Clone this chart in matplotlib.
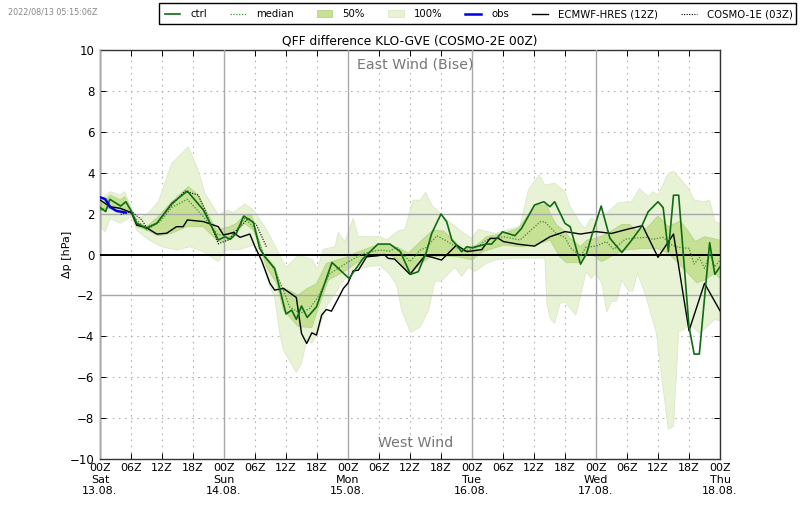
import matplotlib
matplotlib.use("Agg")
import matplotlib.pyplot as plt
from matplotlib.lines import Line2D
from matplotlib.patches import Patch, Rectangle

title = "QFF difference KLO-GVE (COSMO-2E 00Z)"
stamp = "2022/08/13 05:15:06Z"
major_hours = [0, 24, 48, 72, 96, 120]
tick_hours = list(range(0, 121, 6))
days = ["Sat\n13.08.", "Sun\n14.08.", "Mon\n15.08.", "Tue\n16.08.", "Wed\n17.08.", "Thu\n18.08."]

ctrl_h = [0,1.1,1.9,4,5,6.1,7.1,9,11,13.9,16.9,20,22.9,24.2,25.2,26.4,27.8,29.7,30.9,31.9,33.8,36,37.1,38,39,40.1,41.9,44.9,48.2,50.9,53.8,56.1,58.1,60.1,61.6,63.2,64.2,66,67.1,68.1,69,70,71,72,74,74.8,75.8,77.9,80.3,81.6,84.1,85.9,87.1,88,90,91,93,94.2,95.2,97,98.7,101,102.9,104.8,106.1,108,109,110,111,112,114,115,116,118,119,120]
ctrl_v = [2.3,2.1,2.7,2.37,2.58,2.1,1.53,1.28,1.53,2.5,3.1,2.18,0.71,0.87,0.74,1.03,1.88,1.57,0.3,-0.11,-0.68,-2.91,-2.72,-3.17,-2.52,-3.08,-2.56,-0.39,-1.17,-0.2,0.51,0.51,0.15,-0.97,-0.84,0.14,1.03,1.98,1.6,0.71,0.46,0.14,0.38,0.33,0.46,0.51,0.51,1.11,0.92,1.28,2.42,2.58,2.34,2.58,1.52,1.36,-0.47,0.06,0.95,2.37,0.79,0.1,0.7,1.36,2.09,2.58,2.29,0.14,2.9,2.9,-3.53,-4.87,-4.87,0.58,-0.97,-0.6]

median_h = [0,2,3.9,6,9,11.6,13.9,16.9,20,22.9,25.1,26.4,28,29.7,31.6,33.8,35.5,36.7,38.7,40.6,42.2,44.5,48,50.9,54.2,56.1,57.4,60,62,63.2,65.2,67.1,70.3,72.9,74.8,78.1,81.3,85.2,86.1,88.4,90,91,93,94,96,98,99.4,101.6,103,105.8,107,109,110.7,112,114,115,116,117,118,119,120]
median_v = [2.17,2.3,2.26,2.0,1.2,1.6,2.3,2.7,1.85,0.95,1.03,1.19,1.76,1.36,0.05,-0.76,-1.74,-2.56,-2.88,-2.64,-2.07,-0.93,-0.37,0.05,0.22,0.17,0.35,-0.35,0.22,0.35,0.92,0.66,0.14,0.35,0.71,0.87,0.71,1.6,1.6,1.0,0.84,0.35,-0.1,0.35,0.41,0.63,0.25,0.74,0.79,0.84,0.74,0.84,0.46,0.35,0.3,-0.47,-0.14,-0.68,0.05,-0.6,-0.27]

q75_h = [0,2,3.9,4.8,6.1,7.1,9,11.3,13.9,17.1,19,22.5,25.1,26.4,28,29.3,30.6,31.6,33.8,35.1,38.4,40,41.9,43.8,47.7,49,53.5,56,58,59.7,62,64.5,66.5,68.7,70.3,72.9,74.8,78.1,81,84.2,86.5,87.1,88.4,90,91,93,94.2,96,98,101,102.5,103.9,105.8,108,110,112.3,113.9,115.2,117,120]
q75_v = [2.42,2.91,2.67,2.83,2.18,1.61,1.36,1.85,2.58,3.32,2.91,1.2,1.36,1.52,1.93,1.93,0.87,0.05,-0.6,-1.58,-1.98,-1.68,-1.43,-0.44,-0.13,0.03,0.46,0.46,0.3,0.06,0.63,1.2,1.15,0.63,0.22,0.46,0.87,1.03,1.28,2.42,2.42,2.0,1.44,1.12,0.79,0.38,0.7,0.79,1.0,1.47,1.47,1.16,1.28,1.88,1.36,1.64,1.12,0.63,0.87,0.7]
q25_h = [0,2,3.9,6.1,7.1,9,11.3,13.9,16.8,20,22.9,24.8,28,29.7,31.3,32.2,34.2,35.5,38.4,41,42.2,44.2,47.7,50.9,54.2,56.8,58,60,62,63.9,66.5,69.7,72,74.2,78.1,81.3,84.2,87.1,89,90.3,92.6,94.8,97.1,99.4,101.3,105.2,107.7,110,112,115.5,117,119,120]
q25_v = [2.1,2.42,2.18,1.93,1.36,1.2,0.91,1.04,1.36,1.36,0.63,0.7,1.52,1.19,0.13,-0.6,-1.41,-2.72,-3.53,-3.57,-2.64,-1.25,-0.76,-0.2,0.05,-0.1,-0.35,-0.97,-0.46,-0.13,-0.07,-0.13,-0.26,0.15,0.46,0.38,0.46,0.71,-0.11,-0.4,-0.4,0.09,-0.35,-0.03,0.22,0.3,0.3,0.06,-0.43,-1.38,-1.25,-0.92,-1.17]

max_h = [0,2,3.9,4.8,6.1,7.1,9,11.3,13.9,17.1,19,20.3,22.9,24.8,25.8,28,29.7,31.9,33.8,36,38.4,41,42.1,43.2,45.5,46.1,47.4,49,50,54.2,55.5,57.7,59,60.6,62,63,64.2,67.1,70,72,73.2,76.5,81.3,82.9,85,86.1,88,90,91,93,93.9,95,96,98,100.3,102.9,104.4,106.1,107,108,110,111,113.9,115,117,118,119,120]
max_v = [2.67,3.07,2.91,3.07,2.26,1.77,1.93,2.58,4.46,5.27,4.13,3.0,1.93,2.17,2.04,2.47,2.17,1.36,0.46,-0.63,-0.03,-0.24,-0.71,0.25,0.38,1.08,0.62,1.76,0.87,0.87,0.71,1.16,1.23,2.66,2.66,3.04,2.42,1.69,1.12,0.79,1.23,1.03,1.39,3.15,3.89,3.4,3.48,3.07,2.34,1.52,1.28,1.77,1.69,2.01,2.53,2.58,3.23,2.83,3.07,2.91,3.97,4.08,3.23,2.66,2.58,2.66,1.6,1.52]
min_h = [0,1,2,3.9,6.1,7.1,9,11.9,14.9,17.4,20,22.9,24.2,27.1,29.7,31.3,32.9,33.8,34.8,35.5,38,39,40,41,42.2,43.8,46.1,48.7,52,54.2,56.1,57.4,58.4,60.1,61.9,63.6,64.8,66.1,68.7,70,71.3,72.6,74.8,76.5,80,86.1,86.5,87.1,88,89,90,92.1,94.1,95,96,97.1,98.1,99,100,101,102.3,103.1,104,105.5,107.7,108.7,110,111,112,112.9,114,116.1,119,120]
min_v = [1.36,1.12,1.77,1.53,1.85,1.2,0.79,0.38,0.22,0.38,0.14,-0.35,0.22,0.25,0.46,-0.27,-1.58,-2.08,-3.86,-4.67,-5.77,-5.33,-4.18,-4.35,-3.78,-2.55,-1.66,-0.77,-0.6,-0.52,-0.97,-1.49,-2.72,-3.81,-3.56,-2.72,-1.33,-1.28,-0.62,-1.08,-0.62,-0.83,-0.43,-0.27,-0.18,-0.18,-2.39,-3.12,-3.37,-2.39,-2.31,-2.96,-0.84,-1.17,-0.92,-1.41,-2.8,-2.31,-2.27,-1.25,-1.79,-1.79,-0.92,-1.9,-3.86,-5.97,-8.55,-8.39,-3.77,-3.69,-3.37,-3.86,-3.17,-3.25]

obs_h = [0,1,2,3.2,5]
obs_v = [2.8,2.71,2.31,2.13,2.05]

ecmwf_h = [0,1.9,3.9,6.1,7.1,9,11,12.9,14.8,16.1,16.9,20,22.9,23.9,25.8,27.1,29,30,31.3,32.9,33.8,35.5,38,39,40,41,41.9,42.9,43.8,44.8,46.1,47.1,48,49,50,51.6,53.8,55,55.8,57,60,62.9,64.2,66.1,69,71,73.9,75.5,77.1,78.1,81,84.1,87.1,90,93,96,99,102,105,108,111,114,117,120]
ecmwf_v = [2.67,2.34,2.26,2.05,1.44,1.31,1.0,1.04,1.36,1.36,1.69,1.61,1.36,0.95,1.07,0.84,1.0,0.38,-0.31,-1.41,-1.74,-1.66,-2.1,-3.86,-4.35,-3.83,-3.94,-2.96,-2.69,-2.77,-2.15,-1.66,-1.4,-0.8,-0.77,-0.11,-0.06,0.0,-0.19,-0.22,-0.97,-0.05,-0.13,-0.27,0.46,0.14,0.24,0.79,0.79,0.63,0.5,0.41,0.87,1.12,1.0,1.12,1.03,1.23,1.41,-0.14,1.0,-3.73,-1.41,-2.75]

cosmo1_h = [4,6.1,8.1,9,11,13.9,16.4,19,20.3,22.9,24.8,26.5,28.7,30.3,32.2]
cosmo1_v = [1.96,2.1,1.69,1.33,1.53,2.42,3.1,2.91,2.18,0.52,0.71,1.2,1.77,1.44,0.38]

C_100 = "#e8f3d6"
C_50 = "#c6e094"
C_CTRL = "#0f6b12"
C_MED = "#3f8f3a"
GRID = "#a8a8a8"
DOT = (0, (1.5, 4))

plt.rcParams["font.family"] = "DejaVu Sans"
fig = plt.figure(figsize=(8.0, 5.09), dpi=100)
ax = fig.add_axes([100/800, 1-459/509, 620/800, 409/509])

ax.fill(max_h + min_h[::-1], max_v + min_v[::-1], facecolor=C_100, edgecolor="#dbe8c8", lw=0.6, zorder=1)
ax.fill(q75_h + q25_h[::-1], q75_v + q25_v[::-1], facecolor=C_50, edgecolor="#b5d48a", lw=0.6, zorder=2)

ax.axhline(0, color="black", lw=1.4, zorder=4)
ax.plot(median_h, median_v, color=C_MED, lw=0.9, ls=(0, (1, 1.3)), zorder=5)
ax.plot(cosmo1_h, cosmo1_v, color="black", lw=0.8, ls=(0, (1, 1.3)), zorder=5)
ax.plot(ecmwf_h, ecmwf_v, color="black", lw=1.0, zorder=6)
ax.plot(ctrl_h, ctrl_v, color=C_CTRL, lw=1.2, zorder=7)
ax.plot(obs_h, obs_v, color="#0000e0", lw=1.8, zorder=8)

ax.set_xlim(0, 120)
ax.set_ylim(-10, 10)
ax.set_yticks(range(-10, 11, 2))
ax.set_xticks(tick_hours)
labels = []
for h in tick_hours:
    lab = f"{h % 24:02d}Z"
    if h in major_hours:
        lab += "\n" + days[major_hours.index(h)]
    labels.append(lab)
ax.set_xticklabels(labels, fontsize=8, linespacing=1.2)
ax.tick_params(axis="y", labelsize=8.5, direction="in", length=4, width=0.7, right=True, pad=4)
ax.tick_params(axis="x", direction="in", length=4, width=0.7, top=True, pad=3)

for h in tick_hours:
    if h in major_hours:
        ax.axvline(h, color=GRID, lw=1.0, zorder=3)
    else:
        ax.axvline(h, color="#b4b4b4", lw=0.8, ls=DOT, zorder=0.5)
for y in range(-10, 11, 2):
    if y in (-2, 2):
        ax.axhline(y, color=GRID, lw=1.0, zorder=3)
    elif y != 0:
        ax.axhline(y, color="#b4b4b4", lw=0.8, ls=DOT, zorder=0.5)

for s in ax.spines.values():
    s.set_linewidth(1.0)
    s.set_color("#333333")

ax.set_ylabel("Δp [hPa]", fontsize=8, labelpad=-2)
ax.set_title(title, fontsize=8.8, pad=4)
ax.text(61, 9.3, "East Wind (Bise)", ha="center", va="center", fontsize=10.2, color="#777777")
ax.text(61, -9.2, "West Wind", ha="center", va="center", fontsize=10.2, color="#777777")
fig.text(8/800, 1-12/509, stamp, fontsize=5.8, color="#888888", ha="left", va="center")

handles = [
    Line2D([], [], color=C_CTRL, lw=1.2),
    Line2D([], [], color=C_MED, lw=0.9, ls=(0, (1, 1.3))),
    Patch(facecolor=C_50, edgecolor="#b5d48a", lw=0.6),
    Patch(facecolor=C_100, edgecolor="#dbe8c8", lw=0.6),
    Line2D([], [], color="#0000e0", lw=1.8),
    Line2D([], [], color="black", lw=1.0),
    Line2D([], [], color="black", lw=0.8, ls=(0, (1, 1.3))),
]
names = ["ctrl", "median", "50%", "100%", "obs", "ECMWF-HRES (12Z)", "COSMO-1E (03Z)"]
fig.legend(handles, names, ncol=7, loc="upper left",
           bbox_to_anchor=(159/800, 1-3.5/509), bbox_transform=fig.transFigure,
           fontsize=7.3, frameon=False,
           columnspacing=2.27, handlelength=1.55, handletextpad=1.0,
           borderaxespad=0, borderpad=0.55)
fig.add_artist(Rectangle((159/800, 1-24/509), 637/800, 21/509, transform=fig.transFigure,
                         fill=False, edgecolor="black", lw=1.0))

fig.savefig("out.png", dpi=100)
